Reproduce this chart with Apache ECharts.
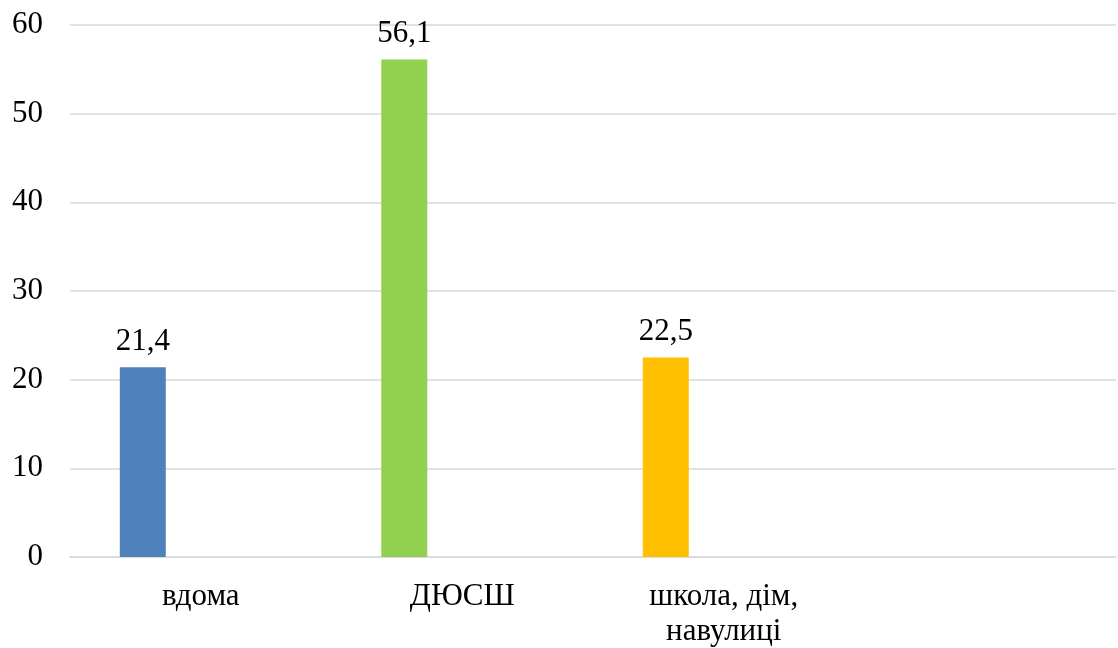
<!DOCTYPE html>
<html>
<head>
<meta charset="utf-8">
<script src="https://cdn.jsdelivr.net/npm/echarts@6/dist/echarts.min.js"></script>
<style>html,body{margin:0;padding:0;background:#fff}#c{width:1118px;height:648px}</style>
</head>
<body>
<div id="c"></div>
<script>
var categories = ['вдома', 'ДЮСШ', 'школа, дім,\nнавулиці', ''];
var values = [21.4, 56.1, 22.5, null];
var barColors = ['#4F81BD', '#92D050', '#FFC000', '#4F81BD'];
var emptySeries = [null, null, null, null];
var yTicks = { min: 0, max: 60, interval: 10 };

var font = '"Liberation Serif", "Times New Roman", serif';
var chart = echarts.init(document.getElementById('c'), null, { renderer: 'canvas' });
chart.setOption({
  animation: false,
  grid: { left: 70, right: 2, top: 25, bottom: 91, containLabel: false, outerBoundsMode: 'none' },
  xAxis: {
    type: 'category',
    data: categories,
    axisLine: { show: true, lineStyle: { color: '#d9d9d9', width: 1.5 } },
    axisTick: { show: false },
    axisLabel: { color: '#000', fontFamily: font, fontSize: 31, margin: 22, lineHeight: 35, interval: 0 }
  },
  yAxis: {
    type: 'value',
    min: yTicks.min, max: yTicks.max, interval: yTicks.interval,
    axisLine: { show: false },
    axisTick: { show: false },
    splitLine: { lineStyle: { color: '#d9d9d9', width: 1.5 } },
    axisLabel: { color: '#000', fontFamily: font, fontSize: 31, margin: 27 }
  },
  series: [
    {
      type: 'bar',
      data: values.map(function (v, i) { return { value: v, itemStyle: { color: barColors[i] } }; }),
      barWidth: 46,
      barGap: '152%',
      label: {
        show: true, position: 'top', distance: 10,
        color: '#000', fontFamily: font, fontSize: 31,
        formatter: function (p) { return p.value == null ? '' : String(p.value).replace('.', ','); }
      }
    },
    {
      type: 'bar',
      data: emptySeries,
      barWidth: 46
    }
  ]
});
</script>
</body>
</html>
